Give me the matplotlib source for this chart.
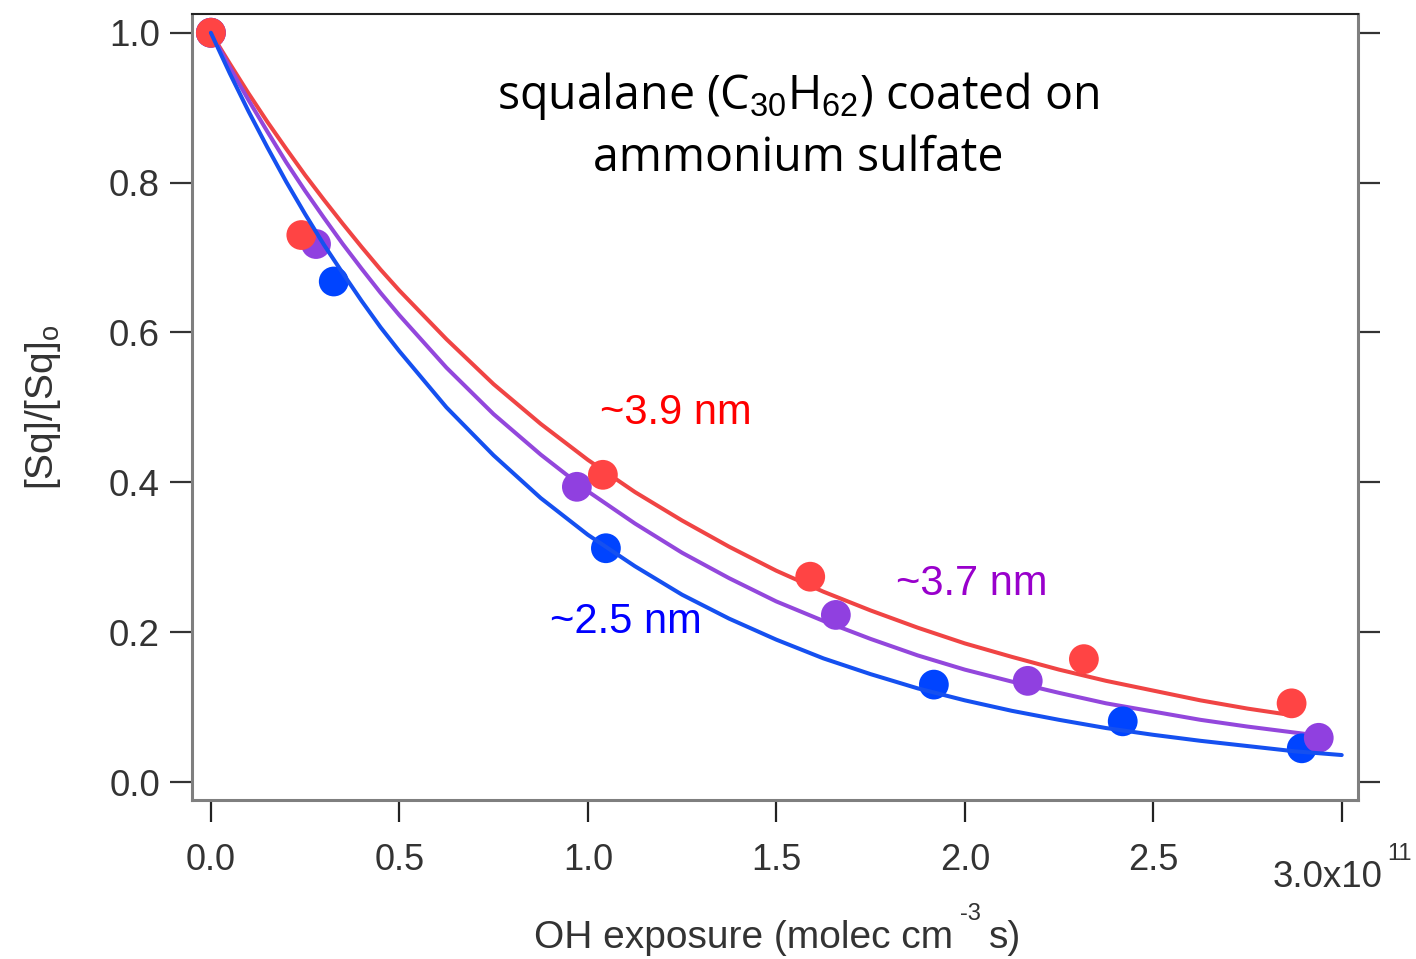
import matplotlib
matplotlib.use("Agg")
import matplotlib.pyplot as plt

# ---------------- data ----------------
red_x = [0.0, 0.24, 1.04, 1.59, 2.316, 2.867]
red_y = [1.0, 0.730, 0.410, 0.274, 0.164, 0.105]
purple_x = [0.0, 0.279, 0.971, 1.658, 2.167, 2.939]
purple_y = [1.0, 0.718, 0.394, 0.223, 0.135, 0.059]
blue_x = [0.0, 0.326, 1.048, 1.918, 2.419, 2.894]
blue_y = [1.0, 0.668, 0.312, 0.130, 0.081, 0.045]

# fitted curves
fit_x = [0.0, 0.05, 0.1, 0.15, 0.2, 0.25, 0.3, 0.35, 0.4, 0.45, 0.5, 0.625, 0.75, 0.875,
         1.0, 1.125, 1.25, 1.375, 1.5, 1.625, 1.75, 1.875, 2.0, 2.125, 2.25, 2.375,
         2.5, 2.625, 2.75]
red_fit_y = [1.0, 0.959, 0.919, 0.881, 0.845, 0.810, 0.777, 0.745, 0.714, 0.684, 0.656,
             0.591, 0.531, 0.478, 0.430, 0.387, 0.349, 0.314, 0.282, 0.254, 0.229, 0.206,
             0.185, 0.167, 0.150, 0.135, 0.122, 0.109, 0.098]
purple_fit_y = [1.0, 0.954, 0.910, 0.868, 0.827, 0.789, 0.753, 0.718, 0.685, 0.653, 0.623,
                0.553, 0.491, 0.437, 0.388, 0.345, 0.306, 0.272, 0.241, 0.215, 0.191, 0.169,
                0.150, 0.134, 0.119, 0.105, 0.094, 0.083, 0.074]
blue_fit_y = [1.0, 0.946, 0.895, 0.847, 0.801, 0.758, 0.717, 0.679, 0.642, 0.607, 0.575,
              0.500, 0.436, 0.379, 0.330, 0.288, 0.250, 0.218, 0.190, 0.165, 0.144, 0.125,
              0.109, 0.095, 0.083, 0.072, 0.063, 0.055, 0.048]
red_fit_end_x = [2.87]
red_fit_end_y = [0.089]
purple_fit_end_x = [2.875, 2.97]
purple_fit_end_y = [0.066, 0.060]
blue_fit_end_x = [2.875, 3.0]
blue_fit_end_y = [0.041, 0.036]

x_ticks = [0.0, 0.5, 1.0, 1.5, 2.0, 2.5, 3.0]
x_tick_labels = ["0.0", "0.5", "1.0", "1.5", "2.0", "2.5", ""]
y_ticks = [0.0, 0.2, 0.4, 0.6, 0.8, 1.0]
y_tick_labels = ["0.0", "0.2", "0.4", "0.6", "0.8", "1.0"]

# ---------------- style ----------------
plt.rcParams['font.family'] = ['Liberation Sans', 'DejaVu Sans']
plt.rcParams['mathtext.fontset'] = 'custom'
plt.rcParams['mathtext.rm'] = 'Liberation Sans'
plt.rcParams['mathtext.it'] = 'Liberation Sans'

RED_PT, RED_LN = '#ff4444', '#f04444'
PUR_PT, PUR_LN = '#9040e0', '#9347dc'
BLU_PT, BLU_LN = '#0044ff', '#1550f0'
TXT = '#333333'
SPINE = '#7f7f7f'

W, H = 1416, 959
fig = plt.figure(figsize=(W / 100, H / 100), dpi=100)
ax = fig.add_axes([0.1356, 0.1658, 0.959 - 0.1356, 0.9854 - 0.1658])
ax.set_xlim(-0.05, 3.043)
ax.set_ylim(-0.024, 1.025)

lw = 2.9
ms = 460
ax.plot(fit_x + red_fit_end_x, red_fit_y + red_fit_end_y, color=RED_LN, lw=lw, zorder=2,
        solid_capstyle='round')
ax.plot(fit_x + purple_fit_end_x, purple_fit_y + purple_fit_end_y, color=PUR_LN, lw=lw,
        zorder=2, solid_capstyle='round')
ax.plot(fit_x + blue_fit_end_x, blue_fit_y + blue_fit_end_y, color=BLU_LN, lw=lw, zorder=4,
        solid_capstyle='round')
ax.scatter(blue_x, blue_y, s=ms, color=BLU_PT, edgecolors='none', zorder=3)
ax.scatter(purple_x, purple_y, s=ms, color=PUR_PT, edgecolors='none', zorder=3)
ax.scatter(red_x, red_y, s=ms, color=RED_PT, edgecolors='none', zorder=3)

# spines
for side in ['left', 'bottom', 'right']:
    ax.spines[side].set_color(SPINE)
    ax.spines[side].set_linewidth(2.2)
ax.spines['top'].set_color('#222222')
ax.spines['top'].set_linewidth(1.5)

ax.set_xticks(x_ticks)
ax.set_xticklabels(x_tick_labels)
ax.set_yticks(y_ticks)
ax.set_yticklabels(y_tick_labels)
ax.tick_params(axis='x', direction='out', length=16, width=1.6, color='#222222',
               labelsize=26, labelcolor=TXT, pad=15)
ax.tick_params(axis='y', direction='out', length=16, width=1.6, color='#333333',
               labelsize=26.5, labelcolor=TXT, pad=7, right=True)
ax.tick_params(axis='y', which='both', labelright=False)


def fpos(px, py):
    return px / W, 1 - py / H


# 3.0x10^11 label (pixel placement of the exponent)
fig.text(*fpos(1383, 887), "3.0x10", ha='right', va='baseline', fontsize=26.5, color=TXT)
fig.text(*fpos(1387, 860), "11", ha='left', va='baseline', fontsize=17, color=TXT)

# x axis label with raised exponent
fig.text(*fpos(953, 948), "OH exposure (molec cm", ha='right', va='baseline',
         fontsize=28, color=TXT)
fig.text(*fpos(960, 920), "-3", ha='left', va='baseline', fontsize=17, color=TXT)
fig.text(*fpos(989, 948), "s)", ha='left', va='baseline', fontsize=28, color=TXT)

ax.set_ylabel(r"[Sq]/[Sq]$_{\mathrm{o}}$", fontsize=28, color=TXT, labelpad=33)

# title
ax.text(1.557, 0.915, r"squalane (C$_{30}$H$_{62}$) coated on", fontsize=33.5,
        family=['Open Sans', 'DejaVu Sans'], ha='center', va='center', color='black')
ax.text(1.557, 0.832, "ammonium sulfate", fontsize=33.5,
        family=['Open Sans', 'DejaVu Sans'], ha='center', va='center', color='black')

# labels
ax.text(1.233, 0.493, "~3.9 nm", fontsize=30, color='#ff0000', ha='center', va='center')
ax.text(2.019, 0.264, "~3.7 nm", fontsize=30, color='#9900cc', ha='center', va='center')
ax.text(1.10, 0.214, "~2.5 nm", fontsize=30, color='#0000ff', ha='center', va='center')

fig.savefig("out.png", dpi=100)
